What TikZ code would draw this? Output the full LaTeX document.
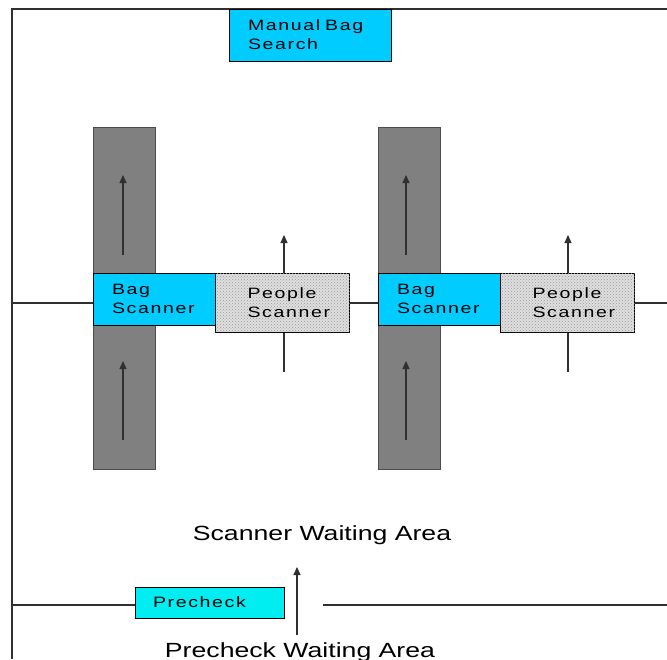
\documentclass[tikz,border=0pt]{standalone}
\usepackage{fontspec}
\setmainfont{Liberation Sans}[FakeStretch=1.3]
\newfontfamily\boxfont{Liberation Sans}[FakeStretch=1.3, LetterSpace=11, WordSpace=1.6]
\usetikzlibrary{arrows.meta,patterns}
\definecolor{scancyan}{HTML}{00CCFF}
\definecolor{precyan}{HTML}{00EEF2}
\definecolor{bargray}{HTML}{808080}
\definecolor{framegray}{HTML}{303030}
\begin{document}
\begin{tikzpicture}[x=1pt,y=-1pt,
  frameline/.style={draw=framegray,line width=1.4pt},
  thin/.style={draw=framegray,line width=1.1pt},
  arr/.style={thin,-{Triangle[width=7pt,length=8pt]}},
  bar/.style={draw=black!70,fill=bargray,line width=1pt,minimum width=62pt,minimum height=342pt,inner sep=0pt},
  cbox/.style={draw=black,line width=1pt,inner ysep=0pt,align=left,font=\boxfont\fontsize{15}{19}\selectfont},
  people/.style={cbox,fill=gray!25,postaction={pattern=crosshatch dots,pattern color=gray!80}},
  area/.style={font=\fontsize{20.5}{24}\selectfont,inner sep=0pt}
]
\useasboundingbox (0,0) rectangle (667,659);
\clip (0,0) rectangle (667,659);
\fill[white] (0,0) rectangle (667,659);

% frame
\coordinate (fl) at (12,659);
\coordinate (ft) at (667,9);
\draw[frameline] (fl) |- (ft);

% gray conveyor bars
\node[bar] (bar1) at (124,298) {};
\node[bar] (bar2) at (409,298) {};

% manual bag search
\node[cbox,fill=scancyan,minimum width=162pt,minimum height=52pt,text width=124pt,inner xsep=19pt] (manual) at (310,35) {Manual Bag\\Search};

% scanners
\node[cbox,fill=scancyan,minimum width=122pt,minimum height=52pt,text width=84pt,inner xsep=19pt] (bag1) at (154,299) {Bag\\Scanner};
\node[people,minimum width=134pt,minimum height=59pt,text width=70pt,inner xsep=32pt,anchor=north west] (ppl1) at (215,273) {People\\Scanner};
\node[cbox,fill=scancyan,minimum width=122pt,minimum height=52pt,text width=84pt,inner xsep=19pt] (bag2) at (439,299) {Bag\\Scanner};
\node[people,minimum width=134pt,minimum height=59pt,text width=70pt,inner xsep=32pt,anchor=north west] (ppl2) at (500,273) {People\\Scanner};

% horizontal line through scanners
\coordinate (hl) at (12,303);
\coordinate (hr) at (667,303);
\draw[thin] (hl) -- (hl -| bag1.west);
\draw[thin] (ppl1.east |- hl) -- (bag2.west |- hl);
\draw[thin] (ppl2.east |- hl) -- (hr);

% arrows in bars
\coordinate (b1a) at (123,255); \coordinate (b1b) at (123,175);
\coordinate (b1c) at (123,440); \coordinate (b1d) at (123,361);
\draw[arr] (b1a) -- (b1b);
\draw[arr] (b1c) -- (b1d);
\coordinate (b2a) at (406,255); \coordinate (b2b) at (406,175);
\coordinate (b2c) at (406,440); \coordinate (b2d) at (406,361);
\draw[arr] (b2a) -- (b2b);
\draw[arr] (b2c) -- (b2d);

% arrows at people scanners
\coordinate (p1t) at (284,235); \coordinate (p1b) at (284,372);
\draw[arr] (ppl1.north -| p1t) -- (p1t);
\draw[thin] (ppl1.south -| p1b) -- (p1b);
\coordinate (p2t) at (568,235); \coordinate (p2b) at (568,372);
\draw[arr] (ppl2.north -| p2t) -- (p2t);
\draw[thin] (ppl2.south -| p2b) -- (p2b);

% waiting areas
\node[area] (swa) at (322,535) {Scanner Waiting Area};
\node[cbox,fill=precyan,minimum width=149pt,minimum height=31pt,text width=113pt,inner xsep=18pt] (pre) at (209.5,602.5) {Precheck};
\coordinate (pl) at (12,605);
\coordinate (pm) at (323,605);
\coordinate (pr) at (667,605);
\draw[thin] (pl) -- (pl -| pre.west);
\draw[thin] (pm) -- (pr);
\coordinate (pa) at (297,635);
\coordinate (pb) at (297,567);
\draw[arr] (pa) -- (pb);
\node[area] (pwa) at (300,652) {Precheck Waiting Area};
\end{tikzpicture}
\end{document}
